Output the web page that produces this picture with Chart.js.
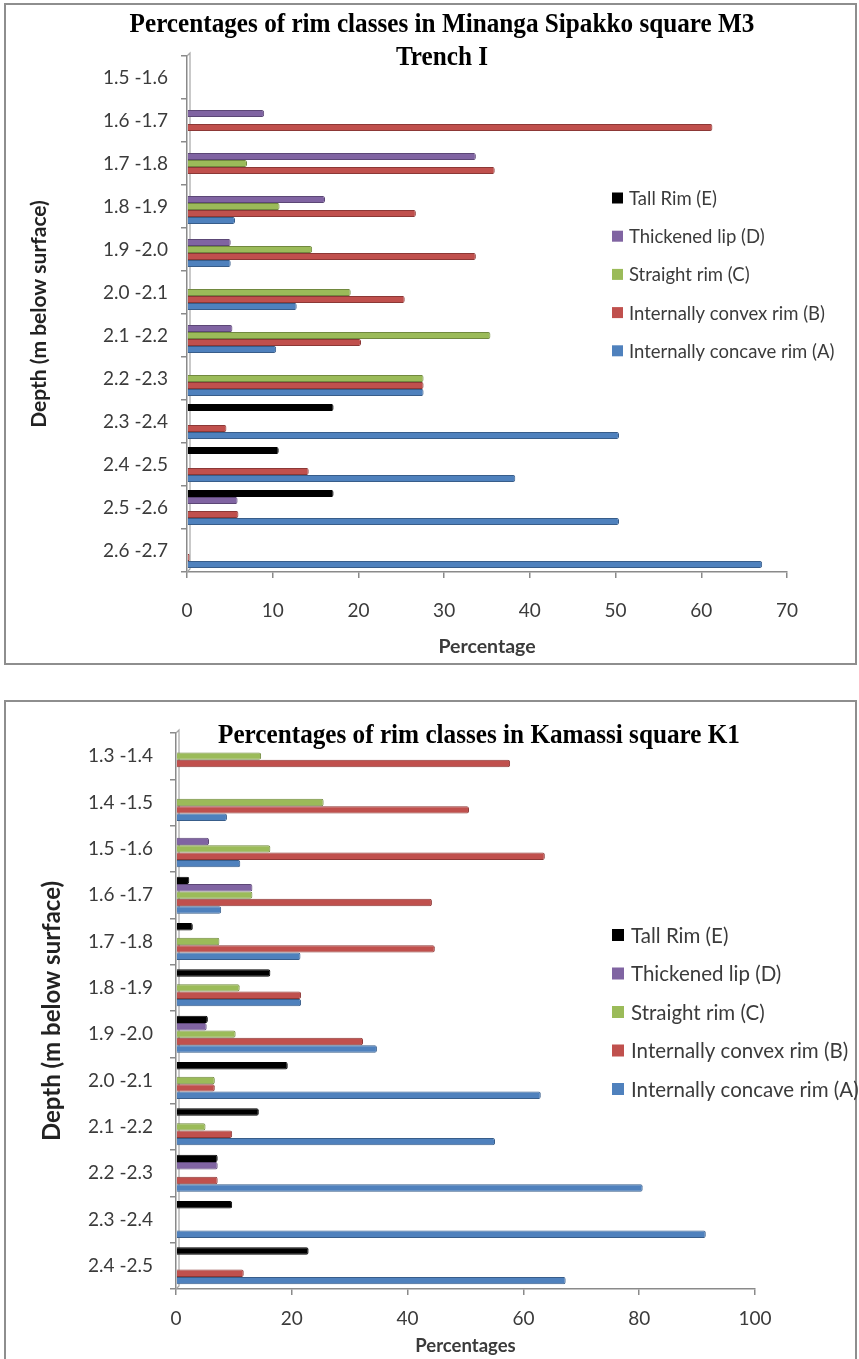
<!DOCTYPE html>
<html>
<head>
<meta charset="utf-8">
<script src="https://cdn.jsdelivr.net/npm/chart.js@4.4.1/dist/chart.umd.min.js"></script>
<style>
  html, body { margin: 0; padding: 0; background: #fff; }
  body { width: 859px; height: 1359px; position: relative; overflow: hidden; }
  .frame { position: absolute; border: 2px solid #8e8e8e; box-sizing: border-box; }
  .panel { position: absolute; left: 0; width: 859px; }
  canvas { position: absolute; left: 0; top: 0; }
</style>
</head>
<body>
<div class="frame" style="left:4px;top:3px;width:853px;height:662px"></div>
<div class="frame" style="left:4px;top:700px;width:853px;height:700px"></div>
<div class="panel" style="top:0;height:670px"><canvas id="minanga" width="859" height="670"></canvas></div>
<div class="panel" style="top:680px;height:679px"><canvas id="kamassi" width="859" height="679"></canvas></div>

<script>
// Rim classes, listed top to bottom as in the legend
const rimClasses = ['Tall Rim (E)', 'Thickened lip (D)', 'Straight rim (C)', 'Internally convex rim (B)', 'Internally concave rim (A)'];

// Minanga Sipakko, square M3, Trench I (percent of rims per depth level)
const minangaDepths = ['1.5 -1.6', '1.6 -1.7', '1.7 -1.8', '1.8 -1.9', '1.9 -2.0', '2.0 -2.1', '2.1 -2.2', '2.2 -2.3', '2.3 -2.4', '2.4 -2.5', '2.5 -2.6', '2.6 -2.7'];
const minangaTall     = [0, 0,    0,    0,    0,    0,    0,    0,    17.1, 10.7, 17.1, 0];
const minangaThick    = [0, 9.0,  33.7, 16.1, 5.1,  0,    5.3,  0,    0,    0,    5.9,  0];
const minangaStraight = [0, 0,    7.0,  10.8, 14.6, 19.1, 35.4, 27.6, 0,    0,    0,    0];
const minangaConvex   = [0, 61.3, 35.9, 26.7, 33.7, 25.4, 20.3, 27.6, 4.6,  14.2, 6.0,  0.3];
const minangaConcave  = [0, 0,    0,    5.6,  5.1,  12.8, 10.4, 27.6, 50.4, 38.3, 50.4, 67.1];
const minangaAxisMax = 70;
const minangaAxisStep = 10;

// Kamassi, square K1
const kamassiDepths = ['1.3 -1.4', '1.4 -1.5', '1.5 -1.6', '1.6 -1.7', '1.7 -1.8', '1.8 -1.9', '1.9 -2.0', '2.0 -2.1', '2.1 -2.2', '2.2 -2.3', '2.3 -2.4', '2.4 -2.5'];
const kamassiTall     = [0,    0,    0,    2.3,  2.9,  16.3, 5.5,  19.3, 14.3, 7.2,  9.7,  22.9];
const kamassiThick    = [0,    0,    5.7,  13.2, 0,    0,    5.3,  0,    0,    7.2,  0,    0];
const kamassiStraight = [14.7, 25.5, 16.3, 13.2, 7.5,  11.0, 10.3, 6.7,  5.1,  0,    0,    0];
const kamassiConvex   = [57.7, 50.6, 63.7, 44.2, 44.7, 21.6, 32.3, 6.7,  9.7,  7.2,  0,    11.7];
const kamassiConcave  = [0,    8.8,  11.1, 7.8,  21.5, 21.6, 34.7, 63.0, 55.1, 80.6, 91.5, 67.3];
const kamassiAxisMax = 100;
const kamassiAxisStep = 20;

// Office-style palette: fill and darker edge for each class
const fills = ['#000000', '#8064A2', '#9BBB59', '#C0504D', '#4F81BD'];
const edges = ['#000000', '#5C4776', '#71893F', '#8C3836', '#385D8A'];

const AXIS_GREY = '#8a8a8a';
const TEXT_GREY = '#3b3b3b';

function buildDatasets(series) {
  return series.map((values, i) => ({
    label: rimClasses[i],
    data: values,
    backgroundColor: fills[i],
    borderColor: edges[i],
    borderWidth: ctx => (ctx.raw > 0 ? 1 : 0),
    borderSkipped: 'start',
    borderRadius: 2
  }));
}

// Title drawn over the top of the plot, slightly condensed like a narrow serif face
const overlayTitle = {
  id: 'overlayTitle',
  afterDraw(chart, args, opts) {
    const ctx = chart.ctx;
    ctx.save();
    ctx.font = opts.font;
    ctx.fillStyle = '#000';
    ctx.textAlign = 'center';
    ctx.textBaseline = 'middle';
    opts.lines.forEach(line => {
      ctx.save();
      ctx.translate(opts.x, line.y);
      ctx.scale(opts.scaleX, 1);
      ctx.fillText(line.text, 0, 0);
      ctx.restore();
    });
    ctx.restore();
  }
};

// Legend floated inside the plot area, one class per row
const floatingLegend = {
  id: 'floatingLegend',
  afterDraw(chart, args, opts) {
    const ctx = chart.ctx;
    ctx.save();
    ctx.font = opts.font;
    ctx.textBaseline = 'middle';
    ctx.textAlign = 'left';
    chart.data.datasets.forEach((ds, i) => {
      const y = opts.y + i * opts.rowGap;
      ctx.fillStyle = ds.backgroundColor;
      ctx.fillRect(opts.x, y - opts.box / 2, opts.box, opts.box);
      ctx.fillStyle = TEXT_GREY;
      ctx.fillText(ds.label, opts.x + opts.box + opts.textGap, y + 1);
    });
    ctx.restore();
  }
};

// Second vertical line of the back wall, giving the axis its 3-D look
const axisWall = {
  id: 'axisWall',
  beforeDatasetsDraw(chart, args, opts) {
    const { ctx, chartArea } = chart;
    const d = opts.depth;
    ctx.save();
    ctx.strokeStyle = '#a6a6a6';
    ctx.lineWidth = 1.2;
    ctx.beginPath();
    ctx.moveTo(chartArea.left, chartArea.bottom);
    ctx.lineTo(chartArea.left + d, chartArea.bottom - d);
    ctx.lineTo(chartArea.left + d, chartArea.top - d);
    ctx.lineTo(chartArea.left, chartArea.top);
    ctx.stroke();
    ctx.restore();
  }
};

function makeChart(canvasId, cfg) {
  return new Chart(document.getElementById(canvasId), {
    type: 'bar',
    data: { labels: cfg.labels, datasets: buildDatasets(cfg.series) },
    plugins: [axisWall, overlayTitle, floatingLegend],
    options: {
      responsive: false,
      animation: false,
      indexAxis: 'y',
      layout: { padding: cfg.padding },
      datasets: { bar: { categoryPercentage: cfg.catPct, barPercentage: 1 } },
      plugins: {
        legend: { display: false },
        tooltip: { enabled: false },
        overlayTitle: cfg.title,
        floatingLegend: cfg.legend,
        axisWall: { depth: 3 }
      },
      scales: {
        x: {
          min: 0, max: cfg.xMax,
          ticks: { stepSize: cfg.xStep, color: TEXT_GREY, padding: cfg.xTickPad,
                   font: { family: 'Lato', size: cfg.tickSize } },
          grid: { drawOnChartArea: false, tickLength: 6, color: AXIS_GREY, lineWidth: 1.5 },
          border: { color: AXIS_GREY, width: 1.5 },
          title: { display: true, text: cfg.xTitle, color: TEXT_GREY,
                   font: { family: 'Lato', size: cfg.xTitleSize, weight: 'bold' },
                   padding: { top: 0, bottom: cfg.xTitlePad } },
          afterFit(scale) { scale.height = cfg.xHeight; }
        },
        y: {
          ticks: { color: TEXT_GREY, padding: cfg.yTickPad,
                   font: { family: 'Lato', size: cfg.tickSize } },
          grid: { drawOnChartArea: false, tickLength: 6, color: AXIS_GREY, lineWidth: 1.5, offset: true },
          border: { color: AXIS_GREY, width: 1.5 },
          title: { display: true, text: 'Depth (m below surface)', color: '#222',
                   font: { family: 'Lato', size: cfg.yTitleSize, weight: 'bold' },
                   padding: { top: cfg.yTitlePad, bottom: 0 } },
          afterFit(scale) { scale.width = cfg.yWidth; }
        }
      }
    }
  });
}

makeChart('minanga', {
  labels: minangaDepths,
  series: [minangaTall, minangaThick, minangaStraight, minangaConvex, minangaConcave],
  xMax: minangaAxisMax, xStep: minangaAxisStep,
  xTitle: 'Percentage',
  padding: { left: 0, right: 72, top: 56, bottom: 0 },
  catPct: 0.81,
  yWidth: 187, xHeight: 98,
  tickSize: 19, xTitleSize: 19.5, yTitleSize: 21,
  xTickPad: 21, xTitlePad: 12, yTickPad: 13, yTitlePad: 27,
  title: {
    font: 'bold 28px "Liberation Serif"', x: 442, scaleX: 0.9,
    lines: [
      { text: 'Percentages of rim classes in Minanga Sipakko square M3', y: 25 },
      { text: 'Trench I', y: 58 }
    ]
  },
  legend: { x: 612, y: 198, rowGap: 38.2, box: 11, textGap: 6, font: '18.5px Lato' }
});

makeChart('kamassi', {
  labels: kamassiDepths,
  series: [kamassiTall, kamassiThick, kamassiStraight, kamassiConvex, kamassiConcave],
  xMax: kamassiAxisMax, xStep: kamassiAxisStep,
  xTitle: 'Percentages',
  padding: { left: 0, right: 104, top: 53, bottom: 0 },
  catPct: 0.8,
  yWidth: 176, xHeight: 70,
  tickSize: 19, xTitleSize: 18.5, yTitleSize: 24,
  xTickPad: 12, xTitlePad: 2, yTickPad: 17, yTitlePad: 38,
  title: {
    font: 'bold 28px "Liberation Serif"', x: 479, scaleX: 0.9,
    lines: [ { text: 'Percentages of rim classes in Kamassi square K1', y: 56 } ]
  },
  legend: { x: 612, y: 255, rowGap: 38.5, box: 12, textGap: 7, font: '20.5px Lato' }
});
</script>
</body>
</html>
